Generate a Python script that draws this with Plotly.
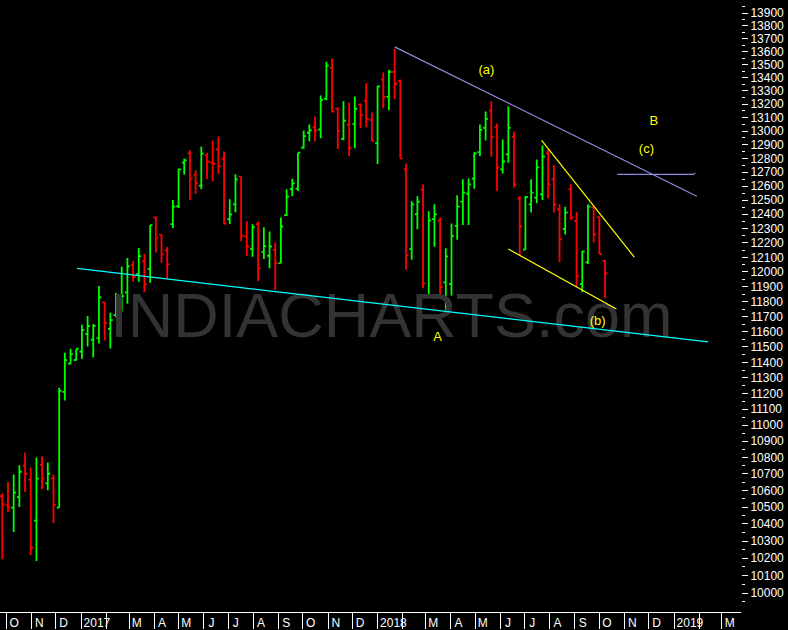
import math
import pandas as pd
import plotly.graph_objects as go

# ---------------- data (weekly OHLC) ----------------
first_week = "2016-09-26"
opens = [10565, 10511, 10497, 10560, 10750, 10665, 10420, 10756, 10643, 10673,
         10497, 11210, 11392, 11415, 11470, 11586, 11547, 11558, 11795, 11618,
         11709, 11815, 11862, 12047, 11986, 12073, 12020, 12377, 12255, 12148,
         12330, 12456, 12768, 12836, 12682, 12603, 12821, 12768, 12865, 12797,
         12365, 12470, 12668, 12244, 12157, 12330, 12136, 12111, 12152, 12061,
         12393, 12577, 12581, 12877, 12987, 13031, 13011, 13240, 13474, 13167,
         12942, 13046, 13053, 13197, 13225, 13083, 12911, 13385, 13254, 13443,
         13375, 12720, 12157, 12400, 12574, 11838, 12365, 12355, 11930, 11919,
         12318, 12489, 12546, 12653, 12845, 13023, 13152, 13031, 12720, 12829,
         12958, 12511, 12154, 12470, 12518, 12540, 12836, 12648, 12435, 12295,
         12577, 12353, 11918, 12066, 12448, 12379, 12075]
highs = [10583, 10651, 10697, 10752, 10831, 10739, 10800, 10806, 10770, 10697,
         11237, 11462, 11488, 11488, 11645, 11704, 11651, 11905, 11795, 11725,
         11858, 12038, 12095, 12075, 12164, 12123, 12323, 12384, 12258, 12171,
         12501, 12727, 12799, 12858, 12713, 12887, 12838, 12931, 12960, 12850,
         12506, 12684, 12668, 12350, 12330, 12350, 12309, 12279, 12203, 12377,
         12577, 12653, 12841, 13004, 13048, 13107, 13264, 13522, 13545, 13175,
         13222, 13212, 13257, 13204, 13357, 13137, 13339, 13440, 13461, 13619,
         13385, 12763, 12492, 12527, 12612, 12421, 12470, 12377, 12162, 12335,
         12534, 12648, 12655, 12845, 13048, 13144, 13220, 13055, 12938, 13182,
         12996, 12529, 12527, 12648, 12792, 12894, 12870, 12751, 12470, 12453,
         12612, 12416, 12143, 12470, 12453, 12384, 12082]
lows = [10194, 10471, 10353, 10501, 10590, 10219, 10184, 10607, 10601, 10406,
        10497, 11156, 11386, 11412, 11423, 11503, 11431, 11522, 11542, 11490,
        11693, 11733, 11786, 11934, 11934, 11862, 11927, 12134, 12063, 11952,
        12304, 12444, 12682, 12501, 12543, 12578, 12650, 12634, 12689, 12332,
        12332, 12414, 12212, 12109, 12104, 11938, 12088, 12026, 11878, 12061,
        12388, 12529, 12564, 12870, 12925, 12925, 12947, 13229, 13139, 12867,
        12932, 12816, 12874, 13020, 13028, 12925, 12758, 13169, 13154, 13237,
        12799, 12015, 12084, 12295, 11889, 11838, 12173, 11826, 11731, 11840,
        12221, 12325, 12325, 12581, 12816, 12930, 12812, 12564, 12691, 12768,
        12589, 12111, 12150, 12412, 12477, 12501, 12511, 12412, 12066, 12258,
        12360, 11903, 11862, 12054, 12203, 12123, 11822]
closes = [10517, 10499, 10587, 10713, 10701, 10262, 10671, 10671, 10701, 10515,
          11216, 11414, 11453, 11488, 11612, 11636, 11638, 11829, 11656, 11676,
          11768, 11836, 12038, 11965, 12109, 11918, 12323, 12237, 12121, 12052,
          12453, 12720, 12785, 12653, 12619, 12834, 12777, 12761, 12741, 12335,
          12398, 12648, 12248, 12175, 12309, 12024, 12178, 12175, 12060, 12314,
          12525, 12619, 12841, 12962, 13004, 13004, 13232, 13492, 13144, 13001,
          13076, 12877, 13165, 13120, 13090, 12928, 13334, 13254, 13443, 13352,
          12799, 12114, 12470, 12489, 11922, 12355, 12400, 11898, 12107, 12248,
          12453, 12553, 12612, 12836, 13009, 13090, 12955, 12732, 12777, 13023,
          12612, 12314, 12522, 12553, 12734, 12812, 12612, 12470, 12225, 12412,
          12377, 11970, 12141, 12453, 12258, 12123, 11990]

# trend lines (date, price) pairs
cyan_line_dates = ["2016-12-27", "2019-02-12"]
cyan_line_prices = [12024, 11533]
blue_line_dates = ["2018-01-22", "2019-01-29"]
blue_line_prices = [13636, 12527]
flat_line_dates = ["2018-10-23", "2019-01-25", "2019-01-27"]
flat_line_prices = [12684, 12684, 12695]
yellow_upper_dates = ["2018-07-22", "2018-11-13"]
yellow_upper_prices = [12931, 12102]
yellow_lower_dates = ["2018-06-11", "2018-10-22"]
yellow_lower_prices = [12157, 11751]

# wave labels
wave_texts = ["(a)", "B", "(c)", "A", "(b)"]
wave_dates = ["2018-05-15", "2018-12-07", "2018-11-28", "2018-03-16", "2018-09-29"]
wave_prices = [13452, 13065, 12865, 11560, 11663]

# axis ticks
y_tick_values = list(range(10000, 14000, 100))
y_minor_values = list(range(9950, 14000, 100))
month_letters = ["J", "F", "M", "A", "M", "J", "J", "A", "S", "O", "N", "D"]

# ---------------- build ----------------
dates = pd.date_range(first_week, periods=len(opens), freq="7D")

months = pd.date_range("2016-10-01", "2019-03-01", freq="MS")
xtick_vals, xtick_text = [], []
for m in months:
    if m.month == 2:
        continue
    if m.month == 1:
        lab = str(m.year)
        off = 19.5
    else:
        lab = month_letters[m.month - 1]
        off = 9.5
    xtick_vals.append(m + pd.Timedelta(days=off))
    xtick_text.append(lab)

FONT = "Arial, 'Liberation Sans', sans-serif"

fig = go.Figure()

# watermark (drawn first so it sits behind the bars)
fig.add_trace(go.Scatter(
    x=[pd.Timestamp("2018-01-18")], y=[11671], mode="text",
    text=["INDIACHARTS.com"], textposition="middle center",
    textfont=dict(family=FONT, size=63, color="#333333"),
    hoverinfo="skip", showlegend=False))

def line(xs, ys, color):
    fig.add_trace(go.Scatter(x=xs, y=ys, mode="lines",
                             line=dict(color=color, width=1.2),
                             hoverinfo="skip", showlegend=False))

line(cyan_line_dates, cyan_line_prices, "#00ffff")
line(blue_line_dates, blue_line_prices, "#8c8cdc")
line(flat_line_dates, flat_line_prices, "#8c8cdc")
line(yellow_upper_dates, yellow_upper_prices, "#ffff00")
line(yellow_lower_dates, yellow_lower_prices, "#ffff00")

fig.add_trace(go.Ohlc(
    x=dates, open=opens, high=highs, low=lows, close=closes,
    increasing=dict(line=dict(color="#00ff00", width=1.8)),
    decreasing=dict(line=dict(color="#ff0000", width=1.8)),
    tickwidth=0.42, hoverinfo="skip", showlegend=False))

fig.add_trace(go.Scatter(
    x=wave_dates, y=wave_prices, mode="text", text=wave_texts,
    textposition="middle center",
    textfont=dict(family=FONT, size=13, color="#ffff00"),
    hoverinfo="skip", showlegend=False))

fig.update_layout(
    width=788, height=630,
    margin=dict(l=0, r=47, t=0, b=16, pad=0),
    paper_bgcolor="black", plot_bgcolor="black",
    showlegend=False,
    xaxis=dict(
        type="date",
        range=["2016-09-23 04:00", "2019-03-24 10:00"],
        rangeslider=dict(visible=False),
        tickmode="array", tickvals=xtick_vals, ticktext=xtick_text,
        ticks="", showgrid=False, zeroline=False,
        showline=True, linecolor="white", linewidth=1,
        tickfont=dict(family=FONT, size=12, color="white"),
        minor=dict(dtick="M1", tick0="2016-10-01", ticks="outside",
                   ticklen=16, tickcolor="white", tickwidth=1, showgrid=False),
    ),
    yaxis=dict(
        type="log", side="right",
        range=[math.log10(9893), math.log10(14004)],
        tickmode="array", tickvals=y_tick_values,
        ticktext=[str(v) for v in y_tick_values],
        ticks="outside", ticklen=6, tickcolor="white", tickwidth=1,
        showgrid=False, zeroline=False, showline=False,
        tickfont=dict(family=FONT, size=12, color="white"),
        minor=dict(tickmode="array", tickvals=y_minor_values, ticks="outside",
                   ticklen=3, tickcolor="white", tickwidth=1, showgrid=False),
    ),
)

fig.write_html("out.html", config={"displayModeBar": False},
               post_script="document.body.style.margin='0';")
